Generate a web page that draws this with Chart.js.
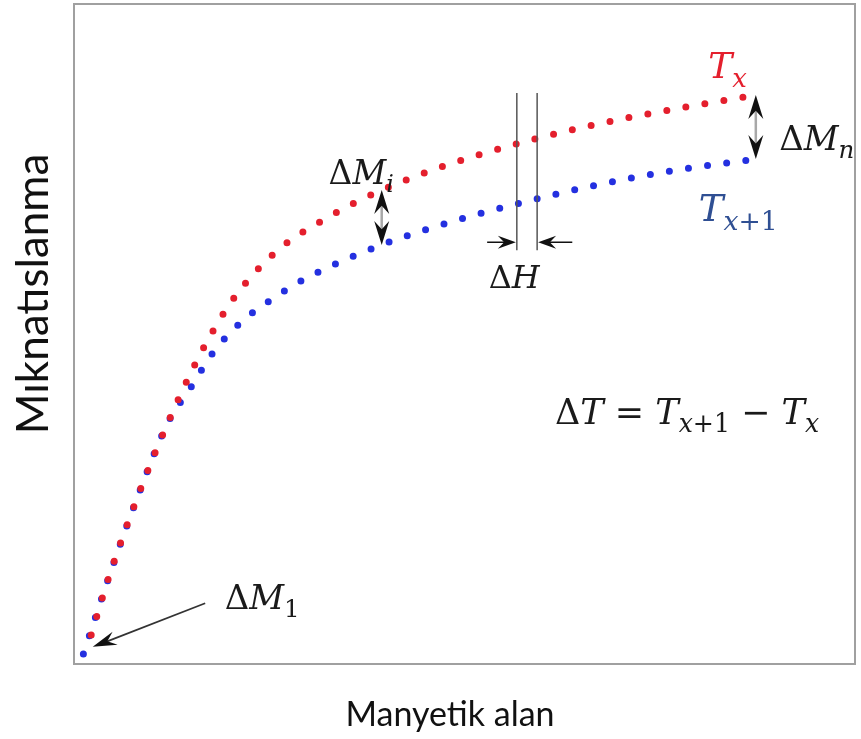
<!DOCTYPE html>
<html>
<head>
<meta charset="utf-8">
<script src="https://cdn.jsdelivr.net/npm/chart.js@4.4.0/dist/chart.umd.min.js"></script>
<style>
  html, body { margin: 0; padding: 0; background: #fff; }
  #wrap { width: 861px; height: 739px; position: relative; }
</style>
</head>
<body>
<div id="wrap"><canvas id="magChart"></canvas></div>
<script>
// magnetisation curves (arbitrary units, 0-100)
const fieldTx = [2.2, 4.5, 8.1, 12.0, 16.5, 20.7, 26.0, 32.4, 39.4, 48.0, 56.7, 67.0, 77.0, 87.3];
const magTx = [4.4, 13.3, 25.2, 36.5, 47.7, 55.8, 62.6, 67.6, 71.8, 75.7, 78.8, 81.8, 84.1, 86.2];
const fieldTx1 = [1.2, 4.5, 8.1, 12.0, 14.9, 17.7, 21.3, 25.4, 29.8, 39.4, 48.0, 56.7, 67.0, 77.0, 87.3];
const magTx1 = [1.5, 13.3, 25.2, 36.5, 41.8, 47.0, 51.7, 55.3, 58.5, 63.5, 66.9, 69.7, 72.6, 74.8, 76.5];

const seriesNames = ['Tx', 'Tx+1'];
const xTitle = 'Manyetik alan';
const yTitle = 'Mıknatıslanma';

// where the ΔM_i arrow and the ΔH strip sit (field values)
const deltaMiField = 39.4;
const deltaHFields = [56.7, 59.3];

const red = '#e41f2d';
const blue = '#2430e0';
const mathFont = '"DejaVu Serif"';

function toPoints(xs, ys) {
    return xs.map((x, i) => ({ x: x, y: ys[i] }));
}

function arrowHead(ctx, x, y, ang, len, wid) {
    ctx.save();
    ctx.translate(x, y);
    ctx.rotate(ang);
    ctx.beginPath();
    ctx.moveTo(0, 0);
    ctx.lineTo(-len, -wid / 2);
    ctx.lineTo(-len * 0.65, 0);
    ctx.lineTo(-len, wid / 2);
    ctx.closePath();
    ctx.fill();
    ctx.restore();
}

function doubleArrow(ctx, x, yTop, yBot) {
    ctx.strokeStyle = '#a8a8a8';
    ctx.lineWidth = 2.5;
    ctx.beginPath();
    ctx.moveTo(x, yTop + 12);
    ctx.lineTo(x, yBot - 12);
    ctx.stroke();
    ctx.fillStyle = '#111';
    arrowHead(ctx, x, yTop, -Math.PI / 2, 24, 15);
    arrowHead(ctx, x, yBot, Math.PI / 2, 24, 15);
}

function drawMath(ctx, runs, x, y, size, color) {
    let cx = x;
    ctx.fillStyle = color;
    ctx.textBaseline = 'alphabetic';
    ctx.textAlign = 'left';
    runs.forEach(r => {
        const s = r.sub ? size * 0.72 : size;
        ctx.font = (r.it ? 'italic ' : '') + s + 'px ' + mathFont;
        ctx.fillText(r.t, cx, y + (r.sub ? size * 0.24 : 0));
        cx += ctx.measureText(r.t).width;
    });
}

const annotations = {
    id: 'annotations',
    afterDatasetsDraw(chart) {
        const ctx = chart.ctx;
        const area = chart.chartArea;
        const sx = chart.scales.x, sy = chart.scales.y;
        const px = v => sx.getPixelForValue(v);
        const py = v => sy.getPixelForValue(v);
        ctx.save();

        // frame
        ctx.strokeStyle = '#a0a0a0';
        ctx.lineWidth = 2;
        ctx.strokeRect(area.left, area.top, area.right - area.left, area.bottom - area.top);

        // ΔM_i and ΔM_n double arrows between the two curves
        const iR = fieldTx.indexOf(deltaMiField), iB = fieldTx1.indexOf(deltaMiField);
        doubleArrow(ctx, px(deltaMiField), py(magTx[iR]), py(magTx1[iB]));
        const nR = fieldTx.length - 1, nB = fieldTx1.length - 1;
        doubleArrow(ctx, px(fieldTx[nR]), py(magTx[nR]), py(magTx1[nB]));

        // ΔH strip
        ctx.strokeStyle = '#555';
        ctx.lineWidth = 1.5;
        deltaHFields.forEach(h => {
            ctx.beginPath();
            ctx.moveTo(px(h), py(86.5));
            ctx.lineTo(px(h), py(62.7));
            ctx.stroke();
        });
        const yA = py(63.9);
        ctx.strokeStyle = '#111';
        ctx.fillStyle = '#111';
        ctx.beginPath();
        ctx.moveTo(px(52.9), yA); ctx.lineTo(px(deltaHFields[0]) - 8, yA);
        ctx.moveTo(px(63.8), yA); ctx.lineTo(px(deltaHFields[1]) + 8, yA);
        ctx.stroke();
        arrowHead(ctx, px(deltaHFields[0]) - 1, yA, 0, 18, 13);
        arrowHead(ctx, px(deltaHFields[1]) + 1, yA, Math.PI, 18, 13);

        // ΔM_1 pointer
        const ax0 = px(16.8), ay0 = py(9.2), ax1 = px(2.4), ay1 = py(2.6);
        ctx.strokeStyle = '#333';
        ctx.lineWidth = 1.8;
        ctx.beginPath();
        ctx.moveTo(ax0, ay0);
        ctx.lineTo(ax1 + 8, ay1 - 3);
        ctx.stroke();
        ctx.fillStyle = '#111';
        arrowHead(ctx, ax1, ay1, Math.atan2(ay1 - ay0, ax1 - ax0), 24, 14);

        // math labels
        const k = '#1a1a1a';
        drawMath(ctx, [{ t: 'Δ' }, { t: 'M', it: true }, { t: 'i', it: true, sub: true }], px(32.6), py(72.7), 33, k);
        drawMath(ctx, [{ t: 'T', it: true }, { t: 'x', it: true, sub: true }], px(81.2), py(88.8), 36, red);
        drawMath(ctx, [{ t: 'Δ' }, { t: 'M', it: true }, { t: 'n', it: true, sub: true }], px(90.3), py(77.9), 34, k);
        drawMath(ctx, [{ t: 'T', it: true }, { t: 'x', it: true, sub: true }, { t: '+1', sub: true }], px(80.0), py(67.1), 37, '#2f4f93');
        drawMath(ctx, [{ t: 'Δ' }, { t: 'H', it: true }], px(53.1), py(57.0), 32, k);
        drawMath(ctx, [{ t: 'Δ' }, { t: 'T', it: true }, { t: ' = ' }, { t: 'T', it: true },
            { t: 'x', it: true, sub: true }, { t: '+1', sub: true }, { t: ' − ' }, { t: 'T', it: true },
            { t: 'x', it: true, sub: true }], px(61.6), py(36.4), 35, k);
        drawMath(ctx, [{ t: 'Δ' }, { t: 'M', it: true }, { t: '1', sub: true }], px(19.3), py(8.4), 34, k);

        // axis titles
        ctx.fillStyle = '#111';
        ctx.textAlign = 'center';
        ctx.textBaseline = 'alphabetic';
        ctx.font = '34px Lato';
        ctx.fillText(xTitle, 450, 726);
        ctx.save();
        ctx.translate(48, 294);
        ctx.rotate(-Math.PI / 2);
        ctx.font = '44px Lato';
        ctx.fillText(yTitle, 0, 0);
        ctx.restore();

        ctx.restore();
    }
};

const dotStyle = {
    showLine: true,
    fill: false,
    pointRadius: 0,
    borderWidth: 7,
    borderDash: [0, 19.3],
    borderCapStyle: 'round',
    cubicInterpolationMode: 'monotone'
};

const ctx = document.getElementById('magChart').getContext('2d');
new Chart(ctx, {
    type: 'line',
    data: {
        datasets: [
            Object.assign({ label: seriesNames[0], data: toPoints(fieldTx, magTx), borderColor: red }, dotStyle),
            Object.assign({ label: seriesNames[1], data: toPoints(fieldTx1, magTx1), borderColor: blue }, dotStyle)
        ]
    },
    options: {
        responsive: true,
        maintainAspectRatio: false,
        animation: false,
        layout: { padding: { left: 74, right: 6, top: 4, bottom: 75 } },
        plugins: { legend: { display: false }, tooltip: { enabled: false } },
        scales: {
            x: { type: 'linear', min: 0, max: 100, display: false },
            y: { min: 0, max: 100, display: false }
        }
    },
    plugins: [annotations]
});
</script>
</body>
</html>
